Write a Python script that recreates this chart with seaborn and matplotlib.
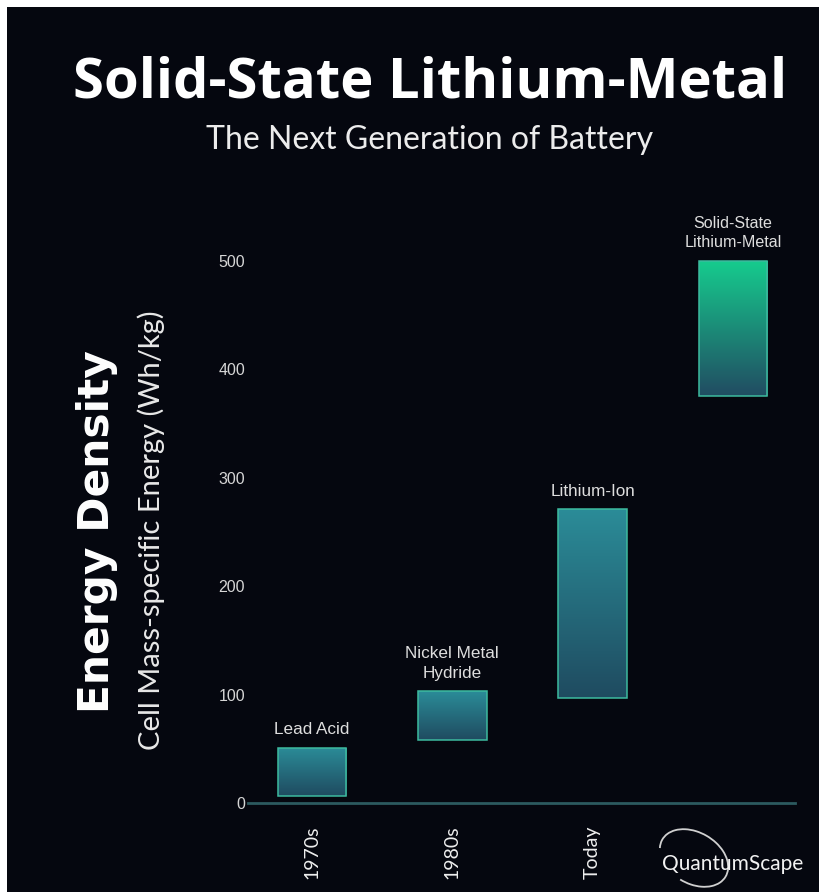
import numpy as np
import pandas as pd
import matplotlib
matplotlib.use("Agg")
import matplotlib.pyplot as plt
import seaborn as sns
from matplotlib.colors import LinearSegmentedColormap
from matplotlib.patches import Rectangle, Arc

# ---- data ----
eras = ["1970s", "1980s", "Today", ""]
chemistries = ["Lead Acid", "Nickel Metal\nHydride", "Lithium-Ion", "Solid-State\nLithium-Metal"]
low_whkg = [6, 58, 97, 375]
high_whkg = [51, 103, 271, 500]
y_ticks = [0, 100, 200, 300, 400, 500]

top_colors = ["#2b8c98", "#2b8c98", "#2b8c98", "#16cc8e"]
bottom_colors = ["#1f4b60", "#1f4b60", "#1f4b60", "#214c62"]

BG = "#05070f"

sns.set_theme(style="dark")
plt.rcParams["font.family"] = ["Liberation Sans", "DejaVu Sans"]

fig = plt.figure(figsize=(8.19, 8.92), dpi=100, facecolor=BG)
W, H = 819, 892
ax = fig.add_axes([248 / W, 1 - 803 / H, (795 - 248) / W, (803 - 200) / H])
ax.set_facecolor(BG)

df = pd.DataFrame({
    "era": [f"c{i}" for i in range(len(eras))],
    "span": np.array(high_whkg) - np.array(low_whkg),
})
sns.barplot(data=df, x="era", y="span", bottom=np.array(low_whkg, dtype=float),
            width=0.49, errorbar=None, color="#2b8c98", ax=ax, zorder=3)

ylim = (0, 556)
xlim = (-0.457, 3.443)

for i, patch in enumerate(ax.patches):
    x0, y0 = patch.get_x(), patch.get_y()
    w, h = patch.get_width(), patch.get_height()
    cmap = LinearSegmentedColormap.from_list(f"g{i}", [bottom_colors[i], top_colors[i]])
    grad = np.linspace(0, 1, 256).reshape(-1, 1)
    im = ax.imshow(grad, cmap=cmap, extent=(x0, x0 + w, y0, y0 + h), origin="lower",
                   aspect="auto", zorder=2, interpolation="bicubic")
    im.set_clip_path(patch)
    patch.set_facecolor("none")
    patch.set_edgecolor("#3dbb9f")
    patch.set_linewidth(1.1)
    # bar label
    ax.text(x0 + w / 2, y0 + h + 9.5, chemistries[i], ha="center", va="bottom",
            color="#dedede", fontsize=12.3 if i < 3 else 11.6, linespacing=1.4, zorder=4)

ax.set_xlim(*xlim)
ax.set_ylim(*ylim)
ax.set_yticks(y_ticks)
ax.set_yticklabels([str(v) for v in y_ticks], color="#d6d6d6", fontsize=11.5)
ax.set_xticks(range(len(eras)))
ax.set_xticklabels(eras, rotation=90, color="#eeeeee", fontsize=14, family="Lato")
ax.tick_params(axis="y", length=0, pad=2)
ax.tick_params(axis="x", length=0, pad=16)
ax.set_xlabel("")
ax.set_ylabel("")
ax.grid(False)
for s in ["top", "right", "left"]:
    ax.spines[s].set_visible(False)
ax.spines["bottom"].set_color("#2c5a5f")
ax.spines["bottom"].set_linewidth(2)

# titles
fig.text(430 / W, 1 - 97 / H, "Solid-State Lithium-Metal", ha="center", va="baseline",
         color="white", fontsize=40.5, fontweight="bold", family="Open Sans")
fig.text(430 / W, 1 - 149 / H, "The Next Generation of Battery", ha="center", va="baseline",
         color="#ececec", fontsize=23, fontweight="normal", family="Lato")

# axis titles
fig.text(97 / W, 1 - 532 / H, "Energy Density", rotation=90, ha="center", va="center",
         color="white", fontsize=30.5, fontweight="bold", family="DejaVu Sans")
fig.text(151 / W, 1 - 530 / H, "Cell Mass-specific Energy (Wh/kg)", rotation=90,
         ha="center", va="center", color="#e8e8e8", fontsize=21, family="Lato")

# logo
fig.text(733 / W, 1 - 864 / H, "QuantumScape", ha="center", va="center",
         color="#f2f2f2", fontsize=15, family="Lato")
fig.patches.append(Arc((694 / W, 1 - 858 / H), 72 / W, 52 / H, angle=-25,
                       theta1=-100, theta2=190, transform=fig.transFigure,
                       color="#d0d0d0", linewidth=1.3))

# image border strips
fig.patches.append(Rectangle((0, 1 - 7 / H), 1, 7 / H, transform=fig.transFigure,
                             facecolor="white", edgecolor="none"))
fig.patches.append(Rectangle((0, 0), 7 / W, 1, transform=fig.transFigure,
                             facecolor="white", edgecolor="none"))

fig.savefig("out.png", dpi=100, facecolor=BG)
